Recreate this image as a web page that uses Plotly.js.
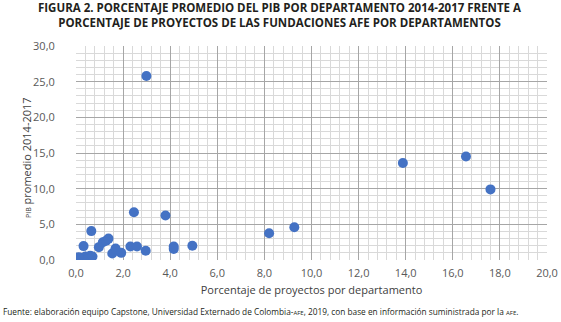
<!DOCTYPE html>
<html><head><meta charset="utf-8">
<script src="https://cdn.plot.ly/plotly-3.0.1.min.js"></script>
<style>body{margin:0;padding:0;background:#fff}#c{width:561px;height:322px}</style>
</head><body><div id="c"></div>
<script>
const proyectos = [2.99,13.88,16.56,17.6,9.27,8.2,2.46,3.8,0.65,0.32,0.97,1.14,1.28,1.38,1.54,1.68,1.92,2.31,2.59,2.96,4.15,4.15,4.94,0.1,0.2,0.3,0.4,0.5,0.6,0.2,0.5,0.1,0.7];
const pib = [25.8,13.6,14.5,9.9,4.6,3.76,6.7,6.25,4.05,1.95,1.8,2.5,2.7,3.0,0.9,1.6,1.0,1.9,1.9,1.3,1.9,1.55,2.0,0.2,0.3,0.2,0.5,0.3,0.6,0.1,0.1,0.4,0.5];
const xTicks = [0,2,4,6,8,10,12,14,16,18,20];
const yTicks = [0,5,10,15,20,25,30];

const trace = {x: proyectos, y: pib, mode:'markers', type:'scatter',
  marker:{color:'#4472C4', size:10}, hoverinfo:'none'};

const layout = {
  width:561, height:322, margin:{l:76, r:14, t:46, b:62},
  separators: ',.',
  paper_bgcolor:'#fff', plot_bgcolor:'#fff', showlegend:false,
  font:{family:'Open Sans, sans-serif', color:'#595959', size:11},
  xaxis:{range:[0,20], tickvals:xTicks, tickformat:'.1f', showgrid:true, gridcolor:'#a6a6a6', gridwidth:1,
    minor:{dtick:0.4, showgrid:true, gridcolor:'#d9d9d9'}, zeroline:false, showline:false,
    tickfont:{size:11, color:'#595959'}, ticks:'outside', ticklen:3, tickcolor:'rgba(0,0,0,0)',
    title:{text:'Porcentaje de proyectos por departamento', font:{size:11, color:'#404040'}, standoff:7}},
  yaxis:{range:[0,30], tickvals:yTicks, tickformat:'.1f', showgrid:true, gridcolor:'#a6a6a6', gridwidth:1,
    minor:{dtick:1, showgrid:true, gridcolor:'#d9d9d9'}, zeroline:false, showline:false,
    tickfont:{size:11, color:'#595959'}, ticks:'outside', ticklen:18, tickcolor:'rgba(0,0,0,0)'},
  annotations:[
    {text:'<b>FIGURA 2. PORCENTAJE PROMEDIO DEL PIB POR DEPARTAMENTO 2014-2017 FRENTE A</b><br><b>PORCENTAJE DE PROYECTOS DE LAS FUNDACIONES AFE POR DEPARTAMENTOS</b>', xref:'paper', yref:'paper', x:0.5, y:0, xanchor:'center', yanchor:'middle',
     showarrow:false, font:{size:11.5, color:'#231f20', family:'Open Sans, sans-serif'}},
    {text:'<span style="font-size:7px">PIB</span> promedio 2014-2017', xref:'paper', yref:'paper', x:0, y:0, xanchor:'center', yanchor:'middle',
     textangle:-90, showarrow:false, font:{size:11, color:'#404040', family:'Open Sans, sans-serif'}},
    {text:'Fuente: elaboración equipo Capstone, Universidad Externado de Colombia-<span style="font-size:6px">AFE</span>, 2019, con base en información suministrada por la <span style="font-size:6px">AFE</span>.',
     xref:'paper', yref:'paper', x:0, y:0, xanchor:'left', yanchor:'middle', showarrow:false,
     font:{size:8.3, color:'#231f20', family:'Open Sans, sans-serif'}}
  ]
};
const ph = 322-46-62, pw = 561-76-14;
function py(p){ return (322-62-p)/ph; }
function px(p){ return (p-76)/pw; }
layout.annotations[0].x = px(279); layout.annotations[0].y = py(15.5);
layout.annotations[1].x = px(26); layout.annotations[1].y = py(158);
layout.annotations[2].x = px(1); layout.annotations[2].y = py(311);
Plotly.newPlot('c',[trace],layout,{staticPlot:true});
</script></body></html>
